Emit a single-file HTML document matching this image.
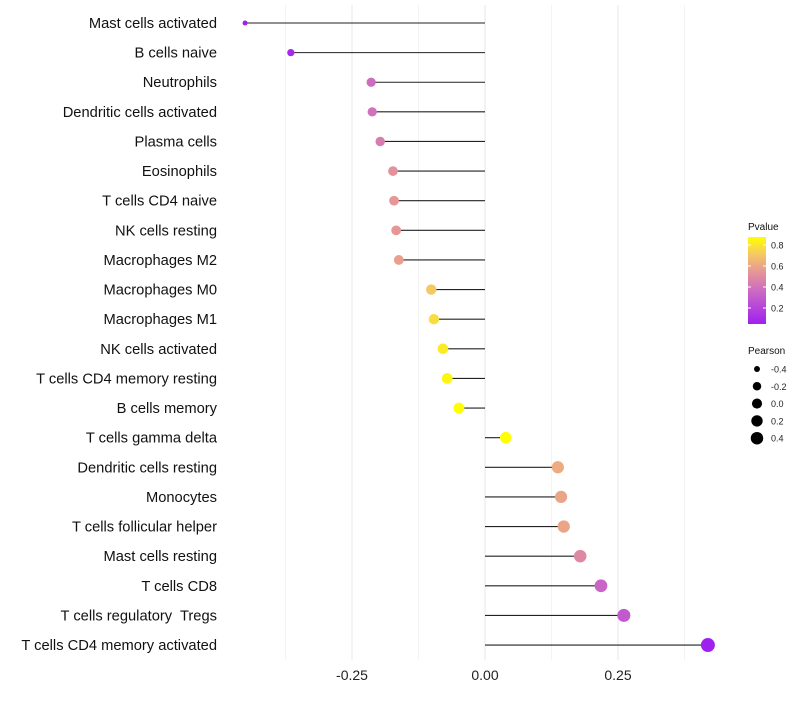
<!DOCTYPE html>
<html><head><meta charset="utf-8"><style>
body{margin:0;background:#fff;}
svg text{font-family:"Liberation Sans",sans-serif;white-space:pre;}
</style></head><body>
<svg id="chart" width="800" height="700">
<defs><linearGradient id="pg" x1="0" y1="1" x2="0" y2="0">
<stop offset="0" stop-color="rgb(160,32,240)"/><stop offset="0.35" stop-color="rgb(200,100,200)"/><stop offset="0.6" stop-color="rgb(230,150,150)"/><stop offset="0.8" stop-color="rgb(245,200,100)"/><stop offset="1" stop-color="rgb(255,255,0)"/>
</linearGradient></defs>
<g id="grid"></g><g id="marks"></g><g id="labels"></g><g id="xticks"></g><g id="legend"></g>
</svg>
<script>
const cells=["Mast cells activated","B cells naive","Neutrophils","Dendritic cells activated","Plasma cells","Eosinophils","T cells CD4 naive","NK cells resting","Macrophages M2","Macrophages M0","Macrophages M1","NK cells activated","T cells CD4 memory resting","B cells memory","T cells gamma delta","Dendritic cells resting","Monocytes","T cells follicular helper","Mast cells resting","T cells CD8","T cells regulatory  Tregs","T cells CD4 memory activated"];
const pearson=[-0.451,-0.365,-0.214,-0.212,-0.197,-0.173,-0.171,-0.167,-0.162,-0.101,-0.096,-0.079,-0.071,-0.049,0.039,0.137,0.143,0.148,0.179,0.218,0.261,0.419];
const pvalue=[0.04,0.1,0.38,0.4,0.45,0.53,0.55,0.55,0.58,0.72,0.78,0.82,0.85,0.88,0.88,0.62,0.6,0.6,0.5,0.35,0.3,0.05];
const xticks=[-0.25,0,0.25];
const xgrid=[-0.375,-0.25,-0.125,0,0.125,0.25,0.375];
const legendP=[0.8,0.6,0.4,0.2];
const legendR=[-0.4,-0.2,0,0.2,0.4];
const NS="http://www.w3.org/2000/svg";
const X=v=>485+532*v, Y=i=>23+i*29.62, R=v=>2+5*Math.sqrt(Math.max(0,(v+0.46)/0.88));
const PY=p=>245+(0.8-p)*105;
const stops=[[0,[160,32,240]],[0.35,[200,100,200]],[0.6,[230,150,150]],[0.8,[245,200,100]],[1,[255,255,0]]];
function col(p){const t=Math.max(0,Math.min(1,(p-0.06)/0.82));
 for(let k=1;k<stops.length;k++){if(t<=stops[k][0]){const [t0,a]=stops[k-1],[t1,b]=stops[k];const u=(t-t0)/(t1-t0);
 return `rgb(${a.map((x,j)=>Math.round(x+(b[j]-x)*u)).join(",")})`;}}
 return "rgb(255,255,0)";}
function mk(tag,at,parent,txt){const e=document.createElementNS(NS,tag);for(const k in at)e.setAttribute(k,at[k]);if(txt!==undefined)e.textContent=txt;document.getElementById(parent).appendChild(e);return e;}
xgrid.forEach(v=>{const e=mk("line",{x1:X(v),x2:X(v),y1:5,y2:660,stroke:"#ebebeb","stroke-width":v*8%2===0?1.2:0.6},"grid");

});
cells.forEach((c,i)=>{
 const l=mk("line",{x1:X(0),x2:X(pearson[i]),y1:Y(i),y2:Y(i),stroke:"#222","stroke-width":1.1},"marks");
 
 
 const d=mk("circle",{cx:X(pearson[i]),cy:Y(i),r:R(pearson[i]),fill:col(pvalue[i])},"marks");
 
 
 const t=mk("text",{x:217,y:Y(i)+5,"text-anchor":"end","font-size":14.7,fill:"#111"},"labels",c);
 
 
});
xticks.forEach(v=>{const t=mk("text",{x:X(v),y:680,"text-anchor":"middle","font-size":14,fill:"#222"},"xticks",v===0?"0.00":v.toFixed(2));

});
let e=mk("text",{x:748,y:230,"font-size":10,fill:"#111"},"legend","Pvalue");


e=mk("rect",{x:748,y:237,width:18,height:87,fill:"url(#pg)"},"legend");


legendP.forEach(p=>{const t=mk("text",{x:771,y:PY(p)+3.5,"font-size":9,fill:"#222"},"legend",p.toFixed(1));


mk("line",{x1:748,x2:751,y1:PY(p),y2:PY(p),stroke:"#fff"},"legend");mk("line",{x1:763,x2:766,y1:PY(p),y2:PY(p),stroke:"#fff"},"legend");});
e=mk("text",{x:748,y:354,"font-size":10,fill:"#111"},"legend","Pearson");


legendR.forEach((v,i)=>{const y=369+i*17.3;
 const c=mk("circle",{cx:757,cy:y,r:R(v)*0.9,fill:"#000"},"legend");
 
 
 const t=mk("text",{x:771,y:y+3.5,"font-size":9,fill:"#222"},"legend",v.toFixed(1));
 
 });
</script>
</body></html>
